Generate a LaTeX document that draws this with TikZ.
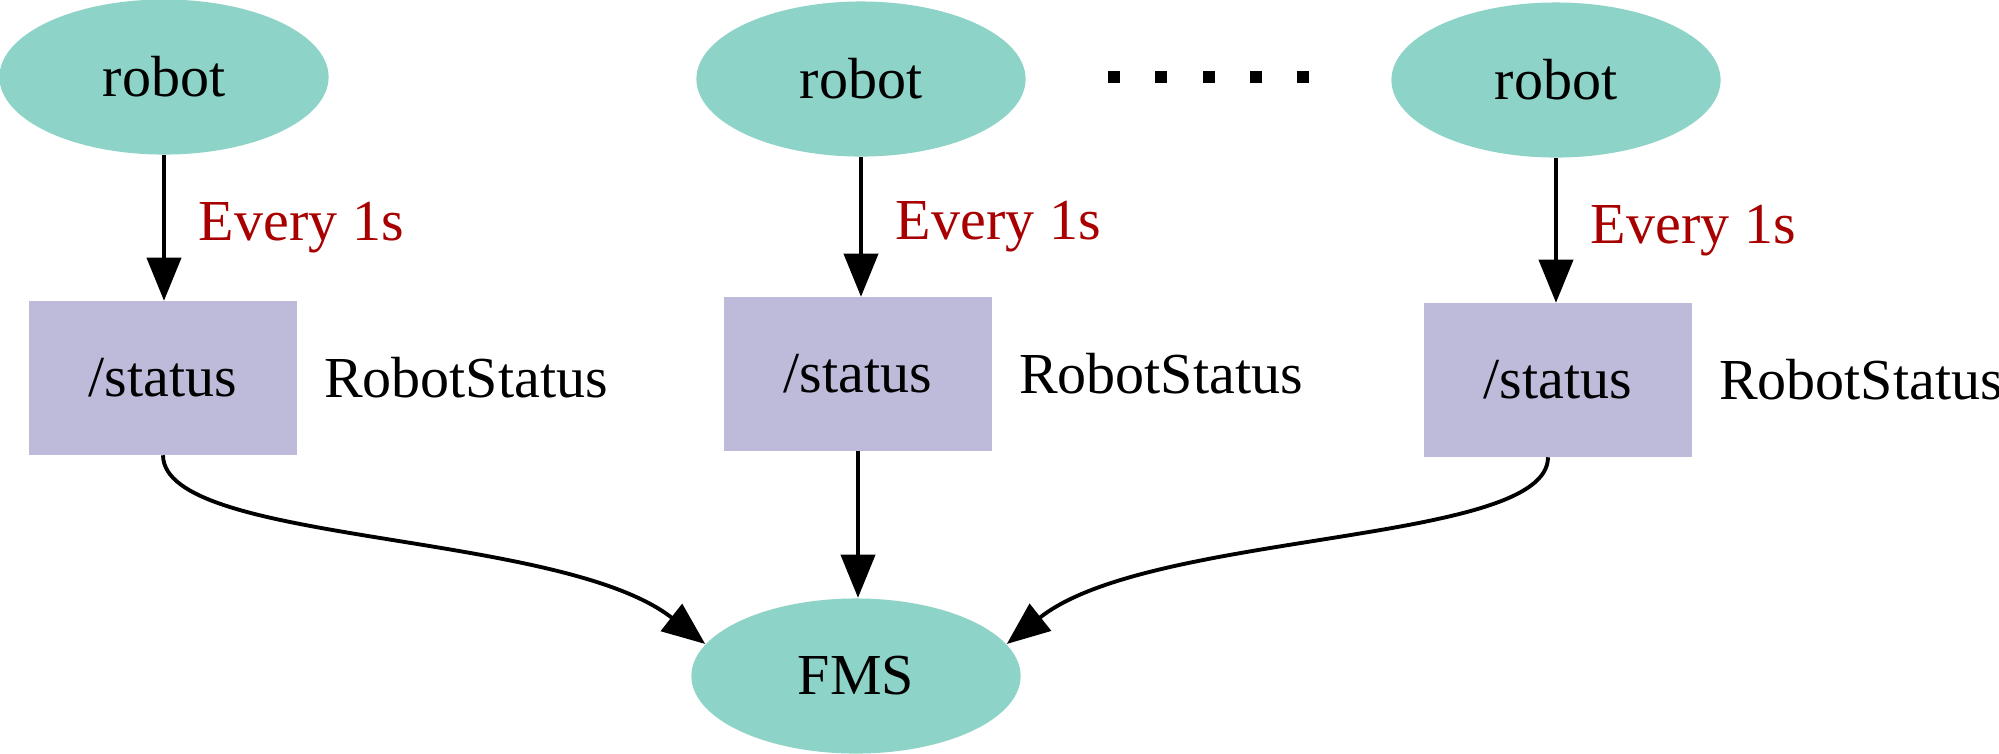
\documentclass[tikz,border=0pt]{standalone}
\usepackage{fontspec}
\setmainfont{Liberation Serif}
\usetikzlibrary{arrows.meta,positioning,shapes.geometric}
\definecolor{robotfill}{HTML}{8DD3C7}
\definecolor{topicfill}{HTML}{BEBADA}
\definecolor{ratered}{HTML}{A80000}
\tikzset{
	robotnode/.style={ellipse,fill=robotfill,minimum width=3.29cm,minimum height=1.55cm,inner sep=0pt,font=\fontsize{16.5}{19}\selectfont},
	topicnode/.style={rectangle,fill=topicfill,minimum width=2.67cm,minimum height=1.53cm,inner sep=0pt,font=\fontsize{16.5}{19}\selectfont},
	msgtype/.style={right=0.26cm of #1,inner sep=0pt,font=\fontsize{16.5}{19}\selectfont},
	rate/.style={midway,right=0.33cm,inner sep=0pt,text=ratered,font=\fontsize{16.5}{19}\selectfont},
	flow/.style={line width=1.1pt,-{Triangle[width=0.34cm,length=0.43cm]}}
}
\begin{document}
\begin{tikzpicture}[x=0.01cm,y=-0.01cm]
			\useasboundingbox (0,0) rectangle (1999,753);
			% robots
			\node[robotnode] (r1) at (164,77) {robot};
			\node[robotnode] (r2) at (861,79) {robot};
			\node[robotnode] (r3) at (1556,80) {robot};
			\foreach \x in {1114,1161,1209,1256,1303}
			\fill (\x-6,71) rectangle (\x+6,83);
			% topics
			\node[topicnode] (s1) at (163,378) {/status};
			\node[topicnode] (s2) at (858,374) {/status};
			\node[topicnode] (s3) at (1558,380) {/status};
			\node[msgtype=s1] (m1) {RobotStatus};
			\node[msgtype=s2] (m2) {RobotStatus};
			\node[msgtype=s3] (m3) {RobotStatus};
			\node[robotnode] (fms) at (856,676) {FMS};
			% edges
			\draw[flow] (r1.south) -- (r1.south |- s1.north) node[rate] (e1) {Every 1s};
			\draw[flow] (r2.south) -- (r2.south |- s2.north) node[rate] (e2) {Every 1s};
			\draw[flow] (r3.south) -- (r3.south |- s3.north) node[rate] (e3) {Every 1s};
			\draw[flow] (s1.south) .. controls (164,545) and (560,530) .. (fms.168);
			\draw[flow] (s2.south) -- (s2.south |- fms.north);
			\draw[flow] ([xshift=-0.1cm]s3.south) .. controls (1548,545) and (1150,530) .. (fms.12);
			\end{tikzpicture}
\end{document}
